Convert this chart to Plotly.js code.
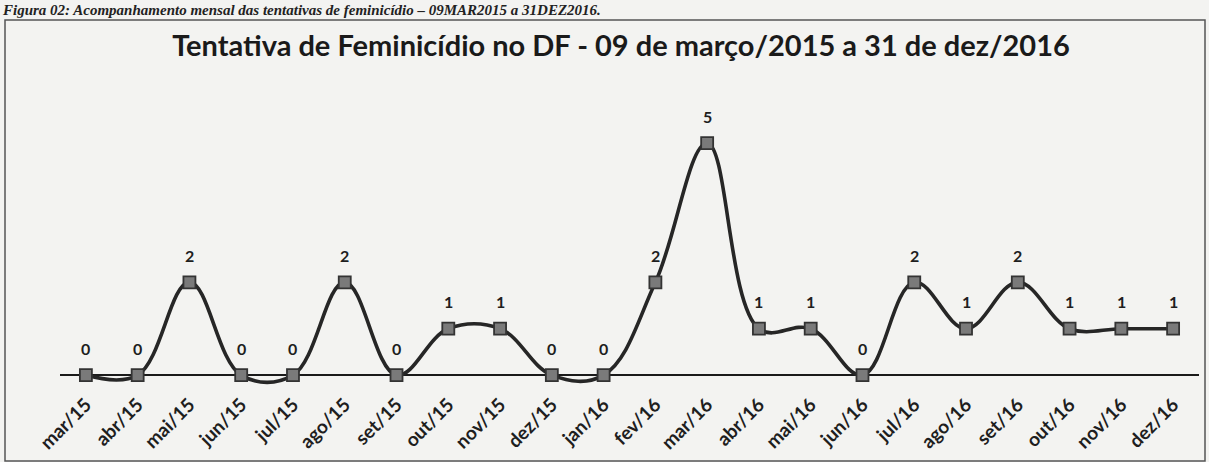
<!DOCTYPE html>
<html>
<head>
<meta charset="utf-8">
<script src="https://cdn.plot.ly/plotly-3.0.1.min.js"></script>
<style>
html,body{margin:0;padding:0;background:#f3f3f1;}
#chart{width:1209px;height:462px;}
</style>
</head>
<body>
<div id="chart"></div>
<script>
const months = ["mar/15","abr/15","mai/15","jun/15","jul/15","ago/15","set/15","out/15","nov/15","dez/15",
                "jan/16","fev/16","mar/16","abr/16","mai/16","jun/16","jul/16","ago/16","set/16","out/16","nov/16","dez/16"];
const attempts = [0,0,2,0,0,2,0,1,1,0,0,2,5,1,1,0,2,1,2,1,1,1];
const chartTitle = "Tentativa de Feminicídio no DF - 09 de março/2015 a 31 de dez/2016";
const figureCaption = "Figura 02: Acompanhamento mensal das tentativas de feminicídio – 09MAR2015 a 31DEZ2016.";

const W = 1209, H = 462;
const mL = 60, mR = 10, mT = 120, mB = 73;
const pw = W - mL - mR, ph = H - mT - mB;
const px = x => (x - mL) / pw;
const py = y => (H - mB - y) / ph;

const trace = {
  x: months,
  y: attempts,
  type: "scatter",
  mode: "lines+markers",
  line: {shape: "spline", smoothing: 1.1, color: "#262626", width: 3.6},
  marker: {symbol: "square", size: 12, color: "#7a7a7a", line: {color: "#333", width: 1.8}},
  cliponaxis: false,
  hoverinfo: "skip"
};

const labelAnns = months.map((m, i) => ({
  x: m, y: attempts[i], xref: "x", yref: "y",
  text: String(attempts[i]), showarrow: false, yshift: 27,
  font: {family: "Lato, 'Open Sans', sans-serif", size: 16, color: "#1e1e1e", weight: "bold"}
}));

const layout = {
  width: W, height: H,
  margin: {l: mL, r: mR, t: mT, b: mB, pad: 0},
  paper_bgcolor: "#f3f3f1",
  plot_bgcolor: "rgba(0,0,0,0)",
  showlegend: false,
  title: {
    text: "<b>" + chartTitle + "</b>",
    font: {family: "Lato, 'Open Sans', sans-serif", size: 29, color: "#1a1a1a"},
    x: 621 / W, xanchor: "center", y: 1 - 46 / H, yanchor: "middle"
  },
  xaxis: {
    type: "category",
    range: [-0.5, months.length - 0.5],
    showgrid: false, showline: false, zeroline: false,
    ticks: "", tickangle: -45,
    tickfont: {family: "Lato, 'Open Sans', sans-serif", size: 19, color: "#1e1e1e", weight: "bold"},
    fixedrange: true
  },
  yaxis: {
    range: [-0.3, 5.5],
    showgrid: false, showticklabels: false, ticks: "",
    zeroline: true, zerolinecolor: "#1a1a1a", zerolinewidth: 2,
    fixedrange: true
  },
  shapes: [
    {type: "rect", xref: "paper", yref: "paper",
     x0: px(5), x1: px(1205), y0: py(461), y1: py(20),
     line: {color: "#555", width: 1.5}, fillcolor: "rgba(0,0,0,0)", layer: "below"}
  ],
  annotations: labelAnns.concat([
    {xref: "paper", yref: "paper", x: px(0), y: py(0), xanchor: "left", yanchor: "top",
     text: "<b><i>" + figureCaption + "</i></b>", showarrow: false,
     font: {family: "'Liberation Serif', serif", size: 15, color: "#222"}}
  ])
};

Plotly.newPlot("chart", [trace], layout, {displayModeBar: false, staticPlot: true});
</script>
</body>
</html>
